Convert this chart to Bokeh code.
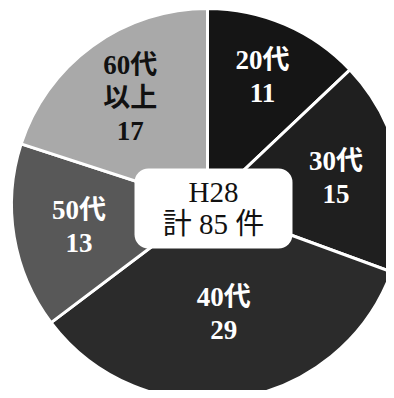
import math
from bokeh.plotting import figure
from bokeh.models import Range1d, ColumnDataSource
from bokeh.core.properties import value
from bokeh.embed import file_html
from bokeh.resources import INLINE

categories = ["20代", "30代", "40代", "50代", "60代以上"]
counts = [11, 15, 29, 13, 17]
label_lines = [["20代", "11"], ["30代", "15"], ["40代", "29"], ["50代", "13"], ["60代", "以上", "17"]]
colors = ["#151515", "#1f1f1f", "#2b2b2b", "#585858", "#a9a9a9"]
label_colors = ["white", "white", "white", "white", "#111111"]
center_title = ["H28", "計 85 件"]

W, H = 386, 390
p = figure(width=W, height=H, output_backend="svg", toolbar_location=None,
           x_range=Range1d(0, W), y_range=Range1d(398 - H, 398),
           min_border=0)
p.axis.visible = False
p.grid.visible = False
p.outline_line_color = None
p.background_fill_color = "white"

cx, cy, r = 207, 398 - 204, 196
total = sum(counts)
starts, ends = [], []
acc = 0.0
for c in counts:
    a0 = math.pi / 2 - 2 * math.pi * acc / total
    acc += c
    a1 = math.pi / 2 - 2 * math.pi * acc / total
    starts.append(a0)
    ends.append(a1)

src = ColumnDataSource(dict(cat=categories, n=counts, start=starts, end=ends, color=colors))
p.wedge(x=cx, y=cy, radius=r, start_angle="start", end_angle="end", direction="clock",
        fill_color="color", line_color="white", line_width=3, source=src)

# centre box
p.rect(x=213, y=398 - 208, width=158, height=80, fill_color="white", line_color=None,
       border_radius=14)

# labels
label_r = [0.71, 0.67, 0.56, 0.665, 0.67]
lx, ly, lt, lc = [], [], [], []
for i, lines in enumerate(label_lines):
    mid = (starts[i] + ends[i]) / 2
    x0 = cx + label_r[i] * r * math.cos(mid)
    y0 = cy + label_r[i] * r * math.sin(mid)
    n = len(lines)
    for j, t in enumerate(lines):
        lx.append(x0)
        ly.append(y0 + (n - 1) * 16.5 - j * 33)
        lt.append(t)
        lc.append(label_colors[i])
p.text(x=lx, y=ly, text=lt, text_color=lc, text_align="center", text_baseline="middle",
       text_font=value("Liberation Serif, Noto Sans CJK JP"), text_font_size="27px",
       text_font_style="bold")

p.text(x=[213, 213], y=[398 - 191, 398 - 223], text=center_title, text_color="#111111",
       text_align="center", text_baseline="middle",
       text_font=value("Liberation Serif, Noto Sans CJK JP"), text_font_size="29px")

open("out.html", "w").write(file_html(p, INLINE))
